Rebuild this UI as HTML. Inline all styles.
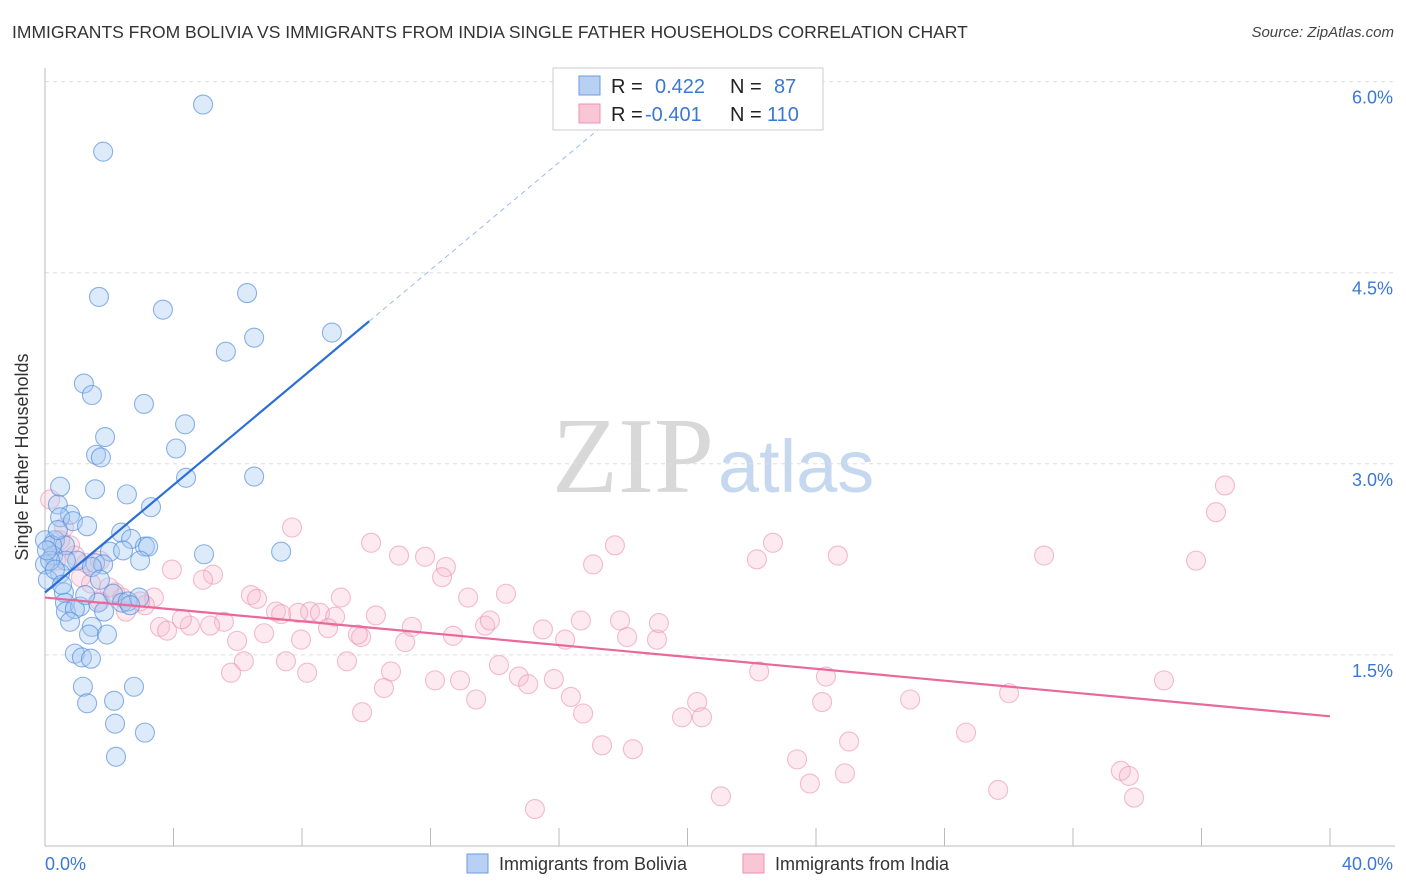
<!DOCTYPE html>
<html><head><meta charset="utf-8"><style>
body{margin:0;background:#fff;font-family:"Liberation Sans",sans-serif;}
#wrap{position:relative;width:1406px;height:892px;overflow:hidden;}
.title{position:absolute;left:12px;top:22px;font-size:17.5px;color:#333;}
.source{position:absolute;right:12px;top:24px;font-size:15px;color:#444;font-style:italic;}
</style></head><body>
<div id="wrap">
<div class="title">IMMIGRANTS FROM BOLIVIA VS IMMIGRANTS FROM INDIA SINGLE FATHER HOUSEHOLDS CORRELATION CHART</div>
<div class="source">Source: ZipAtlas.com</div>
<svg id="svg" width="1406" height="892" style="position:absolute;left:0;top:0">
<text x="714" y="492" font-family="Liberation Serif,serif" font-size="108" fill="#d8d8d8" text-anchor="end">ZIP</text>
<text x="718" y="492" font-family="Liberation Sans,sans-serif" font-size="74" fill="#c5d8f0">atlas</text>
<g id="grid"></g><g id="pts"></g><g id="lines"></g>
<text x="28" y="457" transform="rotate(-90 28 457)" text-anchor="middle" font-size="18" fill="#333">Single Father Households</text>
<g>
<rect x="553" y="68" width="270" height="62" fill="#fff" stroke="#ccc"/>
<rect x="579" y="76" width="21" height="19" fill="#b8d1f3" stroke="#6a9be0"/>
<rect x="579" y="104" width="21" height="19" fill="#f9c6d6" stroke="#ec93b0"/>
<text x="611" y="93" font-size="20" fill="#222">R =</text><text x="655" y="93" font-size="20" fill="#3b78d4">0.422</text>
<text x="730" y="93" font-size="20" fill="#222">N =</text><text x="774" y="93" font-size="20" fill="#3b78d4">87</text>
<text x="611" y="121" font-size="20" fill="#222">R =</text><text x="645" y="121" font-size="20" fill="#3b78d4">-0.401</text>
<text x="730" y="121" font-size="20" fill="#222">N =</text><text x="767" y="121" font-size="20" fill="#3b78d4">110</text>
</g>
<g>
<rect x="467" y="854" width="21" height="19" fill="#b8d1f3" stroke="#6a9be0"/>
<text x="499" y="870" font-size="18" fill="#333">Immigrants from Bolivia</text>
<rect x="743" y="854" width="21" height="19" fill="#f9c6d6" stroke="#ec93b0"/>
<text x="775" y="870" font-size="18" fill="#333">Immigrants from India</text>
</g>
</svg>
</div>
<script>
const yTicks=[1.5,3.0,4.5,6.0];
const xTickLabels=["0.0%","40.0%"];
const boliviaX=[4.92,1.81,1.68,3.67,6.29,6.51,5.63,8.93,1.21,1.46,3.08,4.36,1.87,4.08,1.59,1.74,4.39,6.51,0.47,1.56,2.55,3.30,0.40,0.78,0.47,0.87,1.31,2.37,2.68,0.31,0.0,0.62,2.02,2.43,3.11,3.21,2.96,4.95,7.35,0.25,1.00,0,0.65,1.56,1.81,0.47,1.46,0.09,0.59,2.12,1.65,2.40,2.58,2.93,0.62,0.65,1.09,0.93,1.84,0.78,1.46,1.37,1.93,0.93,1.15,1.43,1.18,2.77,1.31,2.15,2.18,3.11,2.21,0.22,0.16,0.31,0.06,0.53,1.25,1.71,2.65,0.40];
const boliviaY=[5.82,5.45,4.31,4.21,4.34,3.99,3.88,4.03,3.63,3.54,3.47,3.31,3.21,3.12,3.07,3.05,2.89,2.90,2.82,2.80,2.76,2.66,2.68,2.60,2.58,2.55,2.51,2.46,2.41,2.40,2.40,2.36,2.31,2.32,2.35,2.35,2.24,2.29,2.31,2.28,2.24,2.21,2.24,2.22,2.21,2.14,2.19,2.09,1.99,1.98,1.91,1.91,1.92,1.95,1.91,1.84,1.88,1.86,1.84,1.76,1.72,1.66,1.66,1.51,1.48,1.47,1.25,1.25,1.12,1.14,0.96,0.89,0.70,2.36,2.24,2.17,2.32,2.05,1.97,2.09,1.89,2.48];
const indiaX=[0.16,36.73,36.45,35.83,31.10,24.68,22.66,22.16,17.74,17.06,10.15,11.02,11.83,12.48,12.36,7.69,3.95,5.23,4.92,6.41,6.60,9.21,10.30,13.17,14.35,8.25,7.19,7.88,8.56,7.35,9.03,9.84,8.81,5.57,5.14,4.51,4.26,3.58,3.80,2.40,2.18,1.99,3.39,3.11,2.52,1.71,1.12,1.43,0.59,0.78,1.28,5.98,6.82,7.97,9.74,11.21,11.42,12.70,13.70,13.85,15.50,16.19,16.68,17.90,18.12,19.05,19.11,6.19,5.79,7.50,8.16,9.40,10.77,10.55,12.14,12.92,13.42,14.13,14.75,15.04,15.84,16.37,16.75,17.34,18.30,19.83,20.30,20.45,22.23,24.31,24.19,25.03,26.93,28.67,30.01,34.83,23.41,23.81,24.90,21.04,29.67,33.49,33.74,33.90,15.25,9.87,0.34,0.47,0.93,1.71,2.96];
const indiaY=[2.72,2.83,2.62,2.24,2.28,2.28,2.38,2.25,2.36,2.21,2.38,2.28,2.27,2.19,2.11,2.50,2.17,2.13,2.09,1.97,1.94,1.95,1.81,1.95,1.98,1.84,1.84,1.83,1.83,1.82,1.80,1.64,1.71,1.76,1.73,1.73,1.78,1.72,1.69,1.95,1.99,2.03,1.95,1.89,1.84,1.92,2.11,2.06,2.50,2.36,2.22,1.61,1.67,1.62,1.66,1.60,1.72,1.65,1.73,1.77,1.70,1.62,1.77,1.77,1.64,1.62,1.75,1.45,1.36,1.45,1.36,1.45,1.37,1.24,1.30,1.30,1.15,1.42,1.33,1.27,1.31,1.17,1.04,0.79,0.76,1.01,1.13,1.01,1.37,1.33,1.13,0.82,1.15,0.89,1.20,1.30,0.68,0.49,0.57,0.39,0.44,0.59,0.55,0.38,0.29,1.05,2.24,2.40,2.28,2.24,1.92];
const boliviaTrend=[1.99,0.211];
const indiaTrend=[1.95,-0.0233];
const X0=45,X1=1330,Y0=846;
const sx=v=>X0+v*(X1-X0)/40;
const sy=v=>Y0-v*127.4;
const NS="http://www.w3.org/2000/svg";
function mk(tag,attrs,parent){const e=document.createElementNS(NS,tag);for(const k in attrs)e.setAttribute(k,attrs[k]);parent.appendChild(e);return e;}
const grid=document.getElementById('grid'),pts=document.getElementById('pts'),lines=document.getElementById('lines'),svg=document.getElementById('svg');
yTicks.forEach(t=>{
  const l=mk('line',{x1:X0,x2:1395,y1:sy(t),y2:sy(t),stroke:'#ddd','stroke-dasharray':'4,4'},grid);
  
  
  const tx=mk('text',{x:1393,y:sy(t)+22,'text-anchor':'end','font-size':18,fill:'#3b78d4'},grid);
  tx.textContent=t.toFixed(1)+'%';
  
  
});
const ax=mk('line',{x1:X0,x2:X0,y1:68,y2:Y0,stroke:'#bbb'},grid);


const bx=mk('line',{x1:X0,x2:1395,y1:Y0,y2:Y0,stroke:'#bbb'},grid);


for(let i=0;i<=10;i++){const t=mk('line',{x1:sx(i*4),x2:sx(i*4),y1:828,y2:Y0,stroke:'#bbb'},grid);
  
  }
[[0,'start',45],[40,'end',1393]].forEach((d,i)=>{const t=mk('text',{x:d[2],y:870,'text-anchor':d[1],'font-size':18,fill:'#3b78d4'},grid);t.textContent=xTickLabels[i];
  
  });
indiaX.forEach((x,i)=>{const c=mk('circle',{cx:sx(x),cy:sy(indiaY[i]),r:9.5,fill:'rgba(247,185,205,0.3)',stroke:'rgba(235,145,175,0.6)','stroke-width':1.1},pts);
  
  });
boliviaX.forEach((x,i)=>{const c=mk('circle',{cx:sx(x),cy:sy(boliviaY[i]),r:9.5,fill:'rgba(165,200,242,0.38)',stroke:'rgba(80,138,218,0.65)','stroke-width':1.1},pts);
  
  });
const bt=mk('line',{x1:sx(0),y1:sy(boliviaTrend[0]),x2:sx(10.09),y2:sy(boliviaTrend[0]+boliviaTrend[1]*10.09),stroke:'#2a6fd6','stroke-width':2.2},lines);


const bd=mk('line',{x1:sx(10.09),y1:sy(boliviaTrend[0]+boliviaTrend[1]*10.09),x2:sx(17.6),y2:sy(boliviaTrend[0]+boliviaTrend[1]*17.6),stroke:'#9bbbe8','stroke-width':1,'stroke-dasharray':'5,4'},lines);


const it=mk('line',{x1:sx(0),y1:sy(indiaTrend[0]),x2:sx(40),y2:sy(indiaTrend[0]+indiaTrend[1]*40),stroke:'#e8699a','stroke-width':2.2},lines);


</script>
</body></html>
